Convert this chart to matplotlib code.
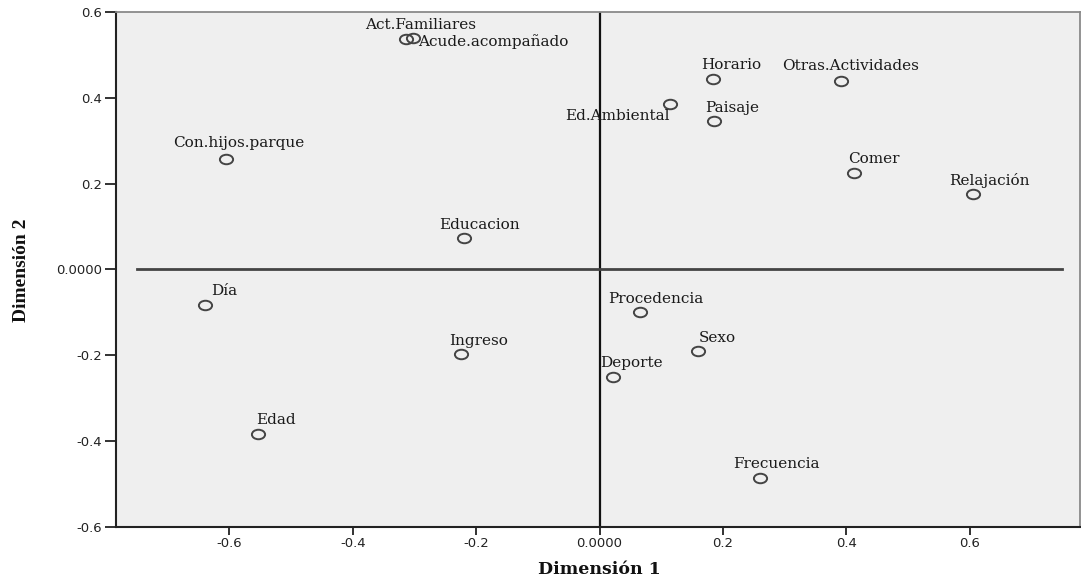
import numpy as np
import matplotlib
matplotlib.use("Agg")
import matplotlib.pyplot as plt
import matplotlib.ticker as mticker
from matplotlib.path import Path

# category points
labels = ['Act.Familiares', 'Acude.acompañado', 'Con.hijos.parque', 'Educacion',
          'Día', 'Edad', 'Ingreso', 'Horario', 'Otras.Actividades', 'Ed.Ambiental',
          'Paisaje', 'Comer', 'Relajación', 'Procedencia', 'Sexo', 'Deporte', 'Frecuencia']
dim1 = [-0.314, -0.303, -0.605, -0.220, -0.639, -0.553, -0.224, 0.184, 0.392, 0.115,
        0.185, 0.413, 0.605, 0.066, 0.159, 0.022, 0.260]
dim2 = [0.538, 0.540, 0.257, 0.074, -0.084, -0.384, -0.197, 0.444, 0.439, 0.385,
        0.347, 0.225, 0.175, -0.100, -0.191, -0.250, -0.487]

xticks = [-0.6, -0.4, -0.2, 0.0, 0.2, 0.4, 0.6]
yticks = [-0.6, -0.4, -0.2, 0.0, 0.2, 0.4, 0.6]

# label placement (pixels from the marker centre, text left/baseline)
offsets = {
    'Act.Familiares': (-41, 10), 'Acude.acompañado': (5, -8), 'Con.hijos.parque': (-53, 12),
    'Educacion': (-25, 9), 'Día': (6, 10), 'Edad': (-2, 10), 'Ingreso': (-12, 9),
    'Horario': (-12, 10), 'Otras.Actividades': (-59, 11), 'Ed.Ambiental': (-105, -16),
    'Paisaje': (-8, 9), 'Comer': (-6, 10), 'Relajación': (-24, 9), 'Procedencia': (-32, 9),
    'Sexo': (1, 9), 'Deporte': (-13, 10), 'Frecuencia': (-27, 10),
}

fig = plt.figure(figsize=(10.81, 5.86), dpi=100)
ax = fig.add_axes([116 / 1081, 1 - 526.7 / 586, 964 / 1081, 514.7 / 586])
ax.set_facecolor('#efefef')

ax.set_xlim(-0.784, 0.779)
ax.set_ylim(-0.6, 0.6)

# reference lines
ax.axvline(0, color='#111111', lw=1.6, zorder=1)
ax.plot([-0.75, 0.75], [0, 0], color='#444444', lw=2, zorder=1)

# slightly flattened open circles like the original
circ = Path.unit_circle()
ell = Path(circ.vertices * np.array([1.0, 0.72]), circ.codes)
ax.plot(dim1, dim2, linestyle='none', marker=ell, markersize=9.5,
        markerfacecolor='none', markeredgecolor='#444444', markeredgewidth=1.4, zorder=3)

for name, x, y in zip(labels, dim1, dim2):
    dx, dy = offsets[name]
    ax.annotate(name, (x, y), xytext=(dx, dy), textcoords='offset pixels',
                ha='left', va='baseline', family='DejaVu Serif', fontsize=11,
                color='#1a1a1a', zorder=4)

ax.set_xticks(xticks)
ax.set_yticks(yticks)
fmt = mticker.FuncFormatter(lambda v, p: '0.0000' if abs(v) < 1e-9 else f'{v:.1f}')
ax.xaxis.set_major_formatter(fmt)
ax.yaxis.set_major_formatter(fmt)
ax.tick_params(axis='x', length=5.5, width=1.3, pad=2, labelsize=9.5, colors='#222222')
ax.tick_params(axis='y', length=8, width=1.3, pad=2, labelsize=9.5, colors='#222222')

for side in ['left', 'bottom']:
    ax.spines[side].set_color('#222222')
    ax.spines[side].set_linewidth(1.5)
for side in ['top', 'right']:
    ax.spines[side].set_color('#8a8a8a')
    ax.spines[side].set_linewidth(1.3)

fig.text(599 / 1081, 1 - 570 / 586, 'Dimensión 1', ha='center', va='center',
         family='DejaVu Serif', fontweight='bold', fontsize=12.5, color='#111111')
fig.text(22 / 1081, 1 - 270 / 586, 'Dimensión 2', ha='center', va='center', rotation=90,
         family='Liberation Serif', fontweight='bold', fontsize=14, color='#111111')

fig.savefig('out.png', dpi=100)
